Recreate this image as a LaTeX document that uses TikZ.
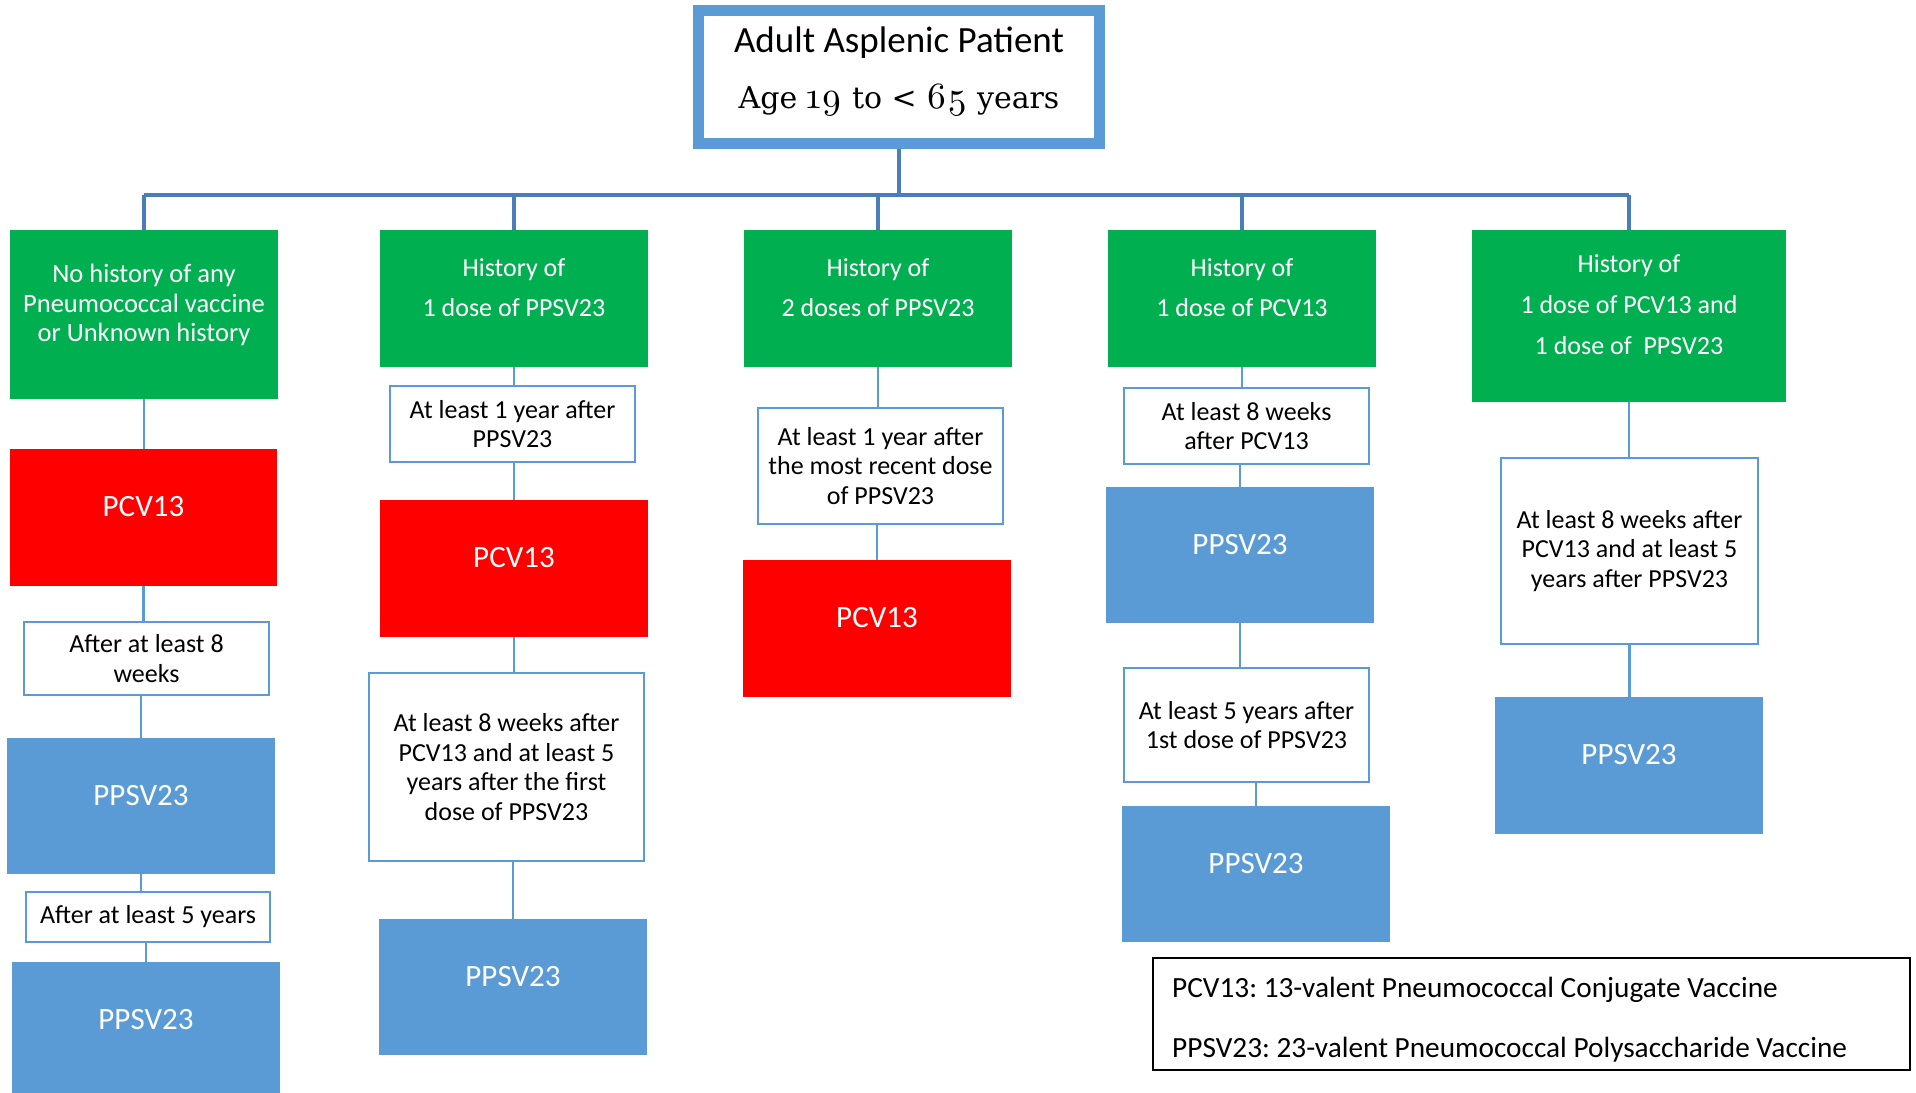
\documentclass[tikz,border=0pt]{standalone}
\usepackage{fontspec}
\newfontfamily\calfont{Carlito}
\newfontfamily\serifont{DejaVu Serif}
\newfontfamily\osfont{lmroman10-regular.otf}[Numbers=OldStyle]
\newcommand\osnum[1]{{\osfont\fontsize{37}{44}\selectfont #1}}
\definecolor{vgreen}{HTML}{00B050}
\definecolor{vred}{HTML}{FF0000}
\definecolor{vblue}{HTML}{5B9BD5}
\definecolor{nblue}{HTML}{5B9BD5}
\definecolor{tblue}{HTML}{4A7EBB}
\begin{document}
\frenchspacing
\begin{tikzpicture}[x=1pt,y=-1pt,
  cellbox/.style={rectangle, inner sep=0pt, outer sep=0pt, minimum width=268pt, minimum height=137pt},
  greenbox/.style={cellbox, fill=vgreen},
  redbox/.style={cellbox, fill=vred},
  bluebox/.style={cellbox, fill=vblue},
  notebox/.style={rectangle, draw=nblue, line width=2.5pt, fill=white, inner sep=0pt, minimum width=245pt,
     align=center, font=\calfont\fontsize{26}{29.5}\selectfont, text=black},
  wtxt/.style={font=\calfont\fontsize{26}{29.5}\selectfont, text=white, align=center, inner sep=0pt},
  vtxt/.style={font=\calfont\fontsize{31}{36}\selectfont, text=white, inner sep=0pt, yshift=10.5pt},
  conn/.style={draw=nblue, line width=2.5pt},
  tree/.style={draw=tblue, line width=3.2pt},
]
\clip (0,0) rectangle (1916,1092);
\fill[white] (0,0) rectangle (1916,1092);

% title
\node[rectangle, draw=vblue, line width=11pt, fill=white, minimum width=401pt, minimum height=133pt, inner sep=0pt] (title) at (899,77) {};
\node[anchor=base, inner sep=0pt, font=\calfont\fontsize{37}{44}\selectfont] (t1) at (899,52) {Adult Asplenic Patient};
\node[anchor=base, inner sep=0pt, font=\serifont\fontsize{30}{44}\selectfont] (t2) at (899,108) {Age \osnum{19} to < \osnum{65} years};

% column 1
\node[greenbox, minimum height=169pt] (g1) at (144,314.5) {};
\node[wtxt, font=\calfont\fontsize{26.5}{29.5}\selectfont] (g1t) at (144,305) {No history of any\\Pneumococcal vaccine\\or Unknown history};
\node[redbox, minimum width=267pt] (r1) at (143.5,517.5) {};
\node[vtxt] (r1t) at (r1) {PCV13};
\node[notebox, minimum height=73pt] (w1) at (146.5,658.5) {After at least 8\\weeks};
\node[bluebox, minimum height=136pt] (b1) at (141,806) {};
\node[vtxt] (b1t) at (b1) {PPSV23};
\node[notebox, minimum width=244pt, minimum height=50pt] (w2) at (148,917) {After at least 5 years};
\node[bluebox] (b2) at (146,1030) {};
\node[vtxt] (b2t) at (b2) {PPSV23};

% column 2
\node[greenbox] (g2) at (514,298.5) {};
\node[wtxt, font=\calfont\fontsize{26}{40}\selectfont] (g2t) at (514,288) {History of\\1 dose of PPSV23};
\node[notebox, minimum height=76pt] (w3) at (512.5,424) {At least 1 year after\\PPSV23};
\node[redbox] (r2) at (514,568.5) {};
\node[vtxt] (r2t) at (r2) {PCV13};
\node[notebox, minimum width=275pt, minimum height=188pt] (w4) at (506.5,767) {At least 8 weeks after\\PCV13 and at least 5\\years after the first\\dose of PPSV23};
\node[bluebox, minimum height=136pt] (b3) at (513,987) {};
\node[vtxt] (b3t) at (b3) {PPSV23};

% column 3
\node[greenbox] (g3) at (878,298.5) {};
\node[wtxt, font=\calfont\fontsize{26}{40}\selectfont] (g3t) at (878,288) {History of\\2 doses of PPSV23};
\node[notebox, minimum height=116pt] (w5) at (880.5,466) {At least 1 year after\\the most recent dose\\of PPSV23};
\node[redbox] (r3) at (877,628.5) {};
\node[vtxt] (r3t) at (r3) {PCV13};

% column 4
\node[greenbox] (g4) at (1242,298.5) {};
\node[wtxt, font=\calfont\fontsize{26}{40}\selectfont] (g4t) at (1242,288) {History of\\1 dose of PCV13};
\node[notebox, minimum height=76pt] (w6) at (1246.5,426) {At least 8 weeks\\after PCV13};
\node[bluebox, minimum height=136pt] (b4) at (1240,555) {};
\node[vtxt] (b4t) at (b4) {PPSV23};
\node[notebox, minimum height=114pt] (w7) at (1246.5,725) {At least 5 years after\\1st dose of PPSV23};
\node[bluebox, minimum height=136pt] (b5) at (1256,874) {};
\node[vtxt] (b5t) at (b5) {PPSV23};

% column 5
\node[greenbox, minimum width=314pt, minimum height=172pt] (g5) at (1629,316) {};
\node[wtxt, font=\calfont\fontsize{26}{41}\selectfont] (g5t) at (1629,305) {History of\\1 dose of PCV13 and\\1 dose of \ PPSV23};
\node[notebox, minimum width=257pt, minimum height=186pt] (w8) at (1629.5,551) {At least 8 weeks after\\PCV13 and at least 5\\years after PPSV23};
\node[bluebox] (b6) at (1629,765.5) {};
\node[vtxt] (b6t) at (b6) {PPSV23};

% legend
\node[rectangle, draw=black, line width=2pt, fill=white, minimum width=757pt, minimum height=112pt, inner sep=0pt] (leg) at (1531.5,1014) {};
\node[anchor=base west, inner sep=0pt, font=\calfont\fontsize{29.3}{34}\selectfont] (leg1) at (1172,997) {PCV13: 13-valent Pneumococcal Conjugate Vaccine};
\node[anchor=base west, inner sep=0pt, font=\calfont\fontsize{29.3}{34}\selectfont] (leg2) at (1172,1057) {PPSV23: 23-valent Pneumococcal Polysaccharide Vaccine};

% tree
\coordinate (bus) at (899,195);
\draw[tree, line width=4pt] (title.south) -- (bus);
\draw[tree] (g1.north |- bus) -- (g5.north |- bus);
\draw[tree] (g1.north |- bus) -- (g1.north);
\draw[tree] (g2.north |- bus) -- (g2.north);
\draw[tree] (g3.north |- bus) -- (g3.north);
\draw[tree] (g4.north |- bus) -- (g4.north);
\draw[tree] (g5.north |- bus) -- (g5.north);

% column connectors
\draw[conn] (g1.south) -- (g1.south |- r1.north);
\draw[conn] (r1.south) -- (r1.south |- w1.north);
\draw[conn] (b1.north |- w1.south) -- (b1.north);
\draw[conn] (b1.south) -- (b1.south |- w2.north);
\draw[conn] (b2.north |- w2.south) -- (b2.north);

\draw[conn] (g2.south) -- (g2.south |- w3.north);
\draw[conn] (r2.north |- w3.south) -- (r2.north);
\draw[conn] (r2.south) -- (r2.south |- w4.north);
\draw[conn] (b3.north |- w4.south) -- (b3.north);

\draw[conn] (g3.south) -- (g3.south |- w5.north);
\draw[conn] (r3.north |- w5.south) -- (r3.north);

\draw[conn] (g4.south) -- (g4.south |- w6.north);
\draw[conn] (b4.north |- w6.south) -- (b4.north);
\draw[conn] (b4.south) -- (b4.south |- w7.north);
\draw[conn] (b5.north |- w7.south) -- (b5.north);

\draw[conn] (g5.south) -- (g5.south |- w8.north);
\draw[conn] (w8.south) -- (w8.south |- b6.north);
\end{tikzpicture}
\end{document}
